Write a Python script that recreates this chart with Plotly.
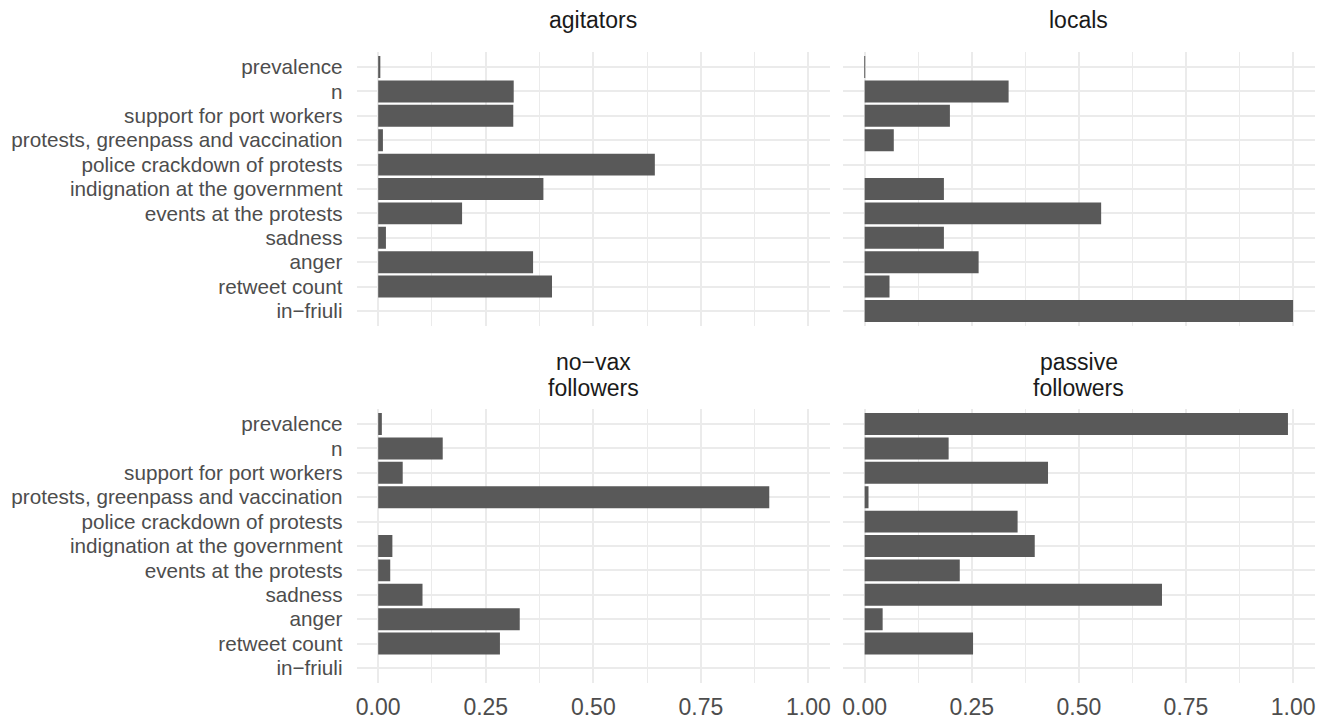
import plotly.graph_objects as go

categories = ["prevalence", "n", "support for port workers",
              "protests, greenpass and vaccination", "police crackdown of protests",
              "indignation at the government", "events at the protests", "sadness",
              "anger", "retweet count", "in\u2212friuli"]

panel_titles = ["agitators", "locals", "no\u2212vax\nfollowers", "passive\nfollowers"]

agitators = [0.005, 0.315, 0.314, 0.011, 0.643, 0.384, 0.195, 0.018, 0.360, 0.404, 0.0]
locals_ = [0.001, 0.336, 0.199, 0.068, 0.0, 0.185, 0.552, 0.185, 0.266, 0.058, 1.0]
novax = [0.0085, 0.150, 0.057, 0.909, 0.0, 0.033, 0.028, 0.103, 0.329, 0.283, 0.0]
passive = [0.988, 0.196, 0.428, 0.009, 0.357, 0.397, 0.222, 0.694, 0.042, 0.253, 0.0]

x_ticks = [0, 0.25, 0.5, 0.75, 1.0]
x_tick_labels = ["0.00", "0.25", "0.50", "0.75", "1.00"]

series = [agitators, locals_, novax, passive]

# page body has an 8px default margin; work in window pixels and subtract it
OFF = 8
W, H = 1325 - OFF, 720 - OFF
FONT = "Liberation Sans, Arial, Helvetica, sans-serif"
GRID = "#EBEBEB"

# panel pixel boxes in window coordinates (left, right) and (top, bottom)
cols = [(356.2, 830.2), (843.5, 1315.5)]
rows = [(52.4, 325.6), (409.4, 682.6)]


def px_x(p):
    return (p - OFF) / W


def px_y(p):
    return 1 - (p - OFF) / H


fig = go.Figure()
layout = dict(
    width=W, height=H,
    margin=dict(l=0, r=0, t=0, b=0),
    paper_bgcolor="white", plot_bgcolor="white",
    showlegend=False,
    font=dict(family=FONT, size=21, color="#4D4D4D"),
    annotations=[],
)

order = list(reversed(categories))

for i, vals in enumerate(series):
    r, c = divmod(i, 2)
    idx = "" if i == 0 else str(i + 1)
    fig.add_trace(go.Bar(
        y=categories, x=vals, orientation="h",
        marker=dict(color="#595959", line=dict(width=0)),
        width=0.9,
        xaxis="x" + idx, yaxis="y" + idx,
        hoverinfo="x+y",
    ))
    x0, x1 = cols[c]
    y0, y1 = rows[r]
    layout["xaxis" + idx] = dict(
        domain=[px_x(x0), px_x(x1)], anchor="y" + idx, range=[-0.05, 1.05],
        tickmode="array", tickvals=x_ticks, ticktext=x_tick_labels,
        showticklabels=(r == 1),
        showgrid=True, gridcolor=GRID, gridwidth=2.2,
        zeroline=False, showline=False,
        ticks="outside", ticklen=0, tickcolor="rgba(0,0,0,0)",
        ticklabelstandoff=4,
        tickfont=dict(family=FONT, size=23, color="#4D4D4D"),
        minor=dict(tickvals=[0.125, 0.375, 0.625, 0.875], showgrid=True,
                   gridcolor=GRID, gridwidth=1.2),
        fixedrange=True,
    )
    layout["yaxis" + idx] = dict(
        domain=[px_y(y1), px_y(y0)], anchor="x" + idx, type="category",
        categoryorder="array", categoryarray=order,
        tickmode="array", tickvals=categories, ticktext=categories,
        range=[-0.6, len(categories) - 0.4],
        showticklabels=(c == 0),
        showgrid=True, gridcolor=GRID, gridwidth=2.2,
        zeroline=False, showline=False,
        ticks="outside", ticklen=0, tickcolor="rgba(0,0,0,0)",
        ticklabelstandoff=9,
        tickfont=dict(family=FONT, size=20.7, color="#4D4D4D"),
        fixedrange=True,
    )
    lines = panel_titles[i].split("\n")
    centers = [20] if len(lines) == 1 else [362, 387.5]
    if r == 1 and len(lines) == 1:
        centers = [375]
    for txt, yc in zip(lines, centers):
        layout["annotations"].append(dict(
            text=txt, xref="paper", yref="paper",
            x=px_x((x0 + x1) / 2), y=px_y(yc),
            xanchor="center", yanchor="middle", showarrow=False,
            font=dict(family=FONT, size=23, color="#1A1A1A"),
        ))

fig.update_layout(**layout)
fig.write_html("out.html")
